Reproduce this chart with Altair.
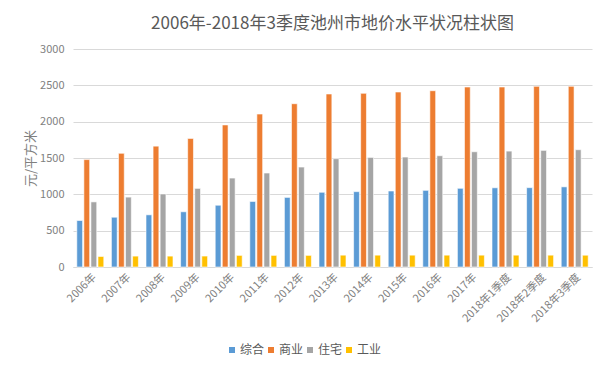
import altair as alt
import pandas as pd

categories = ["2006年", "2007年", "2008年", "2009年", "2010年", "2011年", "2012年",
              "2013年", "2014年", "2015年", "2016年", "2017年",
              "2018年1季度", "2018年2季度", "2018年3季度"]
series = ["综合", "商业", "住宅", "工业"]
zonghe = [640, 685, 718, 760, 850, 902, 958, 1028, 1037, 1046, 1055, 1083, 1090, 1092, 1103]
shangye = [1478, 1565, 1663, 1770, 1955, 2105, 2247, 2381, 2390, 2408, 2426, 2477, 2477, 2486, 2486]
zhuzhai = [896, 962, 1005, 1082, 1224, 1293, 1375, 1490, 1508, 1513, 1531, 1586, 1595, 1605, 1614]
gongye = [145, 150, 150, 150, 160, 160, 160, 163, 163, 163, 163, 163, 163, 163, 163]
colors = ["#5B9BD5", "#ED7D31", "#A5A5A5", "#FFC000"]

rows = []
for vals, s in zip([zonghe, shangye, zhuzhai, gongye], series):
    for c, v in zip(categories, vals):
        rows.append({"cat": c, "series": s, "value": v})
df = pd.DataFrame(rows)

font = "Noto Sans CJK SC"
lab = "#7F7F7F"

chart = alt.Chart(df).mark_bar(stroke="white", strokeWidth=0.6).encode(
    x=alt.X("cat:N", sort=categories, title=None,
            scale=alt.Scale(paddingInner=0.22, paddingOuter=0.11),
            axis=alt.Axis(labelAngle=-45, labelAlign="right", labelBaseline="top",
                          labelFontSize=11, labelColor=lab, labelFont=font,
                          ticks=False, domainColor="#D9D9D9", labelPadding=4,
                          labelOverlap=False)),
    xOffset=alt.XOffset("series:N", sort=series, scale=alt.Scale(paddingInner=0.18)),
    y=alt.Y("value:Q", title="元/平方米",
            scale=alt.Scale(domain=[0, 3000], nice=False),
            axis=alt.Axis(values=[0, 500, 1000, 1500, 2000, 2500, 3000], format="d",
                          labelFontSize=11, labelColor=lab, labelFont=font,
                          ticks=False, domain=False, gridColor="#D9D9D9",
                          labelPadding=9, titleFont=font, titleFontSize=13,
                          titleColor=lab, titleFontWeight="normal",
                          titlePadding=2)),
    color=alt.Color("series:N", sort=series,
                    scale=alt.Scale(domain=series, range=colors),
                    legend=alt.Legend(title=None, orient="none", direction="horizontal",
                                      legendX=153, legendY=295, symbolType="square",
                                      symbolSize=36, symbolStrokeWidth=0,
                                      labelFont=font, labelFontSize=12,
                                      labelColor="#595959", columnPadding=-9,
                                      labelOffset=2)),
).properties(
    width=519, height=218,
    title=alt.TitleParams("2006年-2018年3季度池州市地价水平状况柱状图", font=font,
                          fontSize=17, fontWeight="normal", color="#595959",
                          anchor="middle", offset=10),
    autosize=alt.AutoSizeParams(type="none"),
    padding={"left": 65, "top": 41, "right": 5, "bottom": 100},
).configure_view(stroke=None)

chart.save("out.html", embed_options={"renderer": "svg", "actions": False})
